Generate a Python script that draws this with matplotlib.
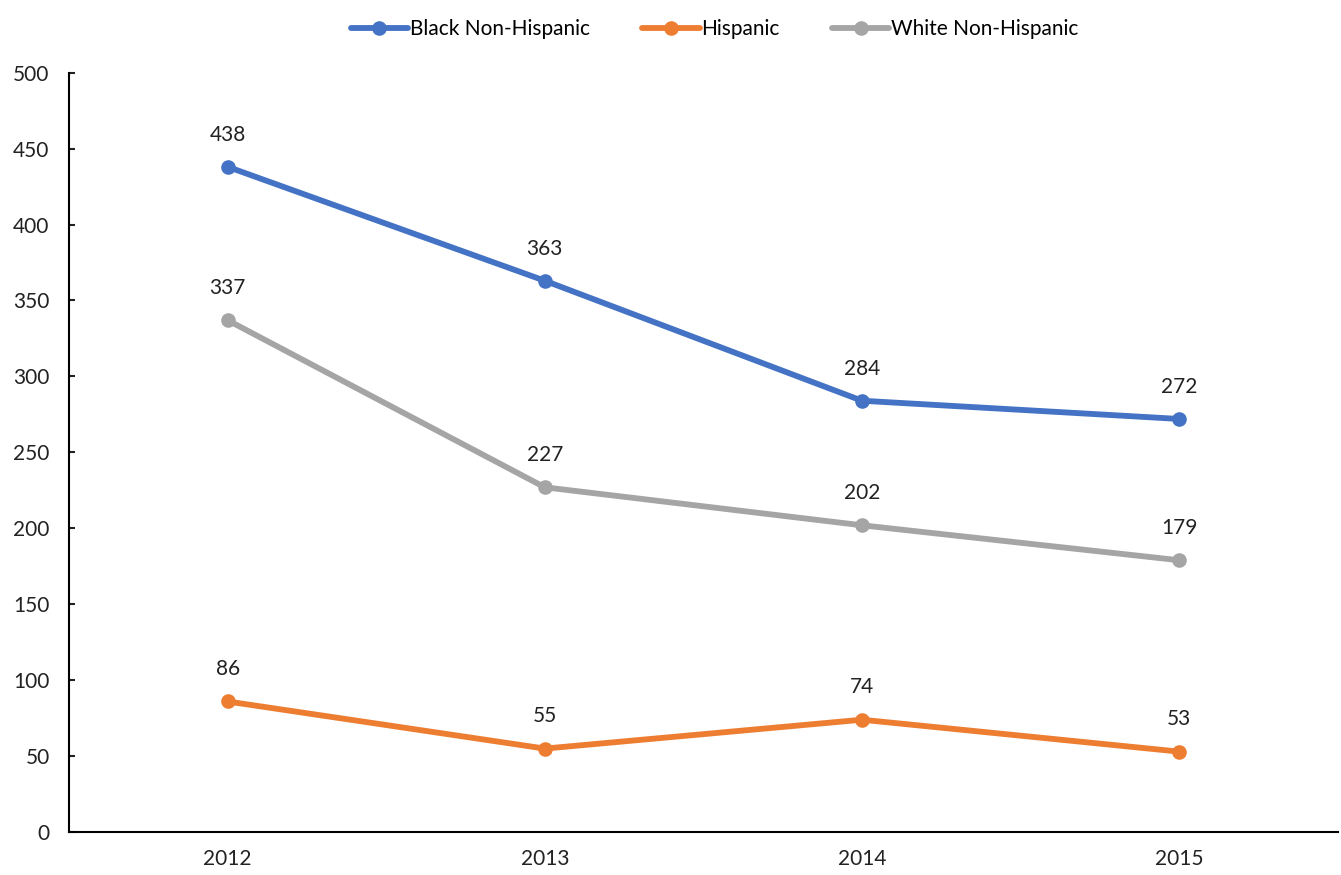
import matplotlib
matplotlib.use("Agg")
import matplotlib.pyplot as plt

years = ["2012", "2013", "2014", "2015"]
black = [438, 363, 284, 272]
hispanic = [86, 55, 74, 53]
white = [337, 227, 202, 179]

series = [
    ("Black Non-Hispanic", black, "#4472C4"),
    ("Hispanic", hispanic, "#ED7D31"),
    ("White Non-Hispanic", white, "#A5A5A5"),
]

plt.rcParams['font.family'] = ['Lato', 'DejaVu Sans']

fig = plt.figure(figsize=(13.41, 8.75), dpi=100)
ax = fig.add_axes([0.0515, 0.049, 0.946, 0.868])

x = range(len(years))
for name, vals, col in series:
    ax.plot(x, vals, '-o', color=col, lw=4.2, ms=9.5, label=name,
            solid_capstyle='round')
    for xi, v in zip(x, vals):
        ax.annotate(str(v), (xi, v), xytext=(0, 16), textcoords='offset points',
                    ha='center', va='bottom', fontsize=15, color='#222222')

ax.set_xlim(-0.5, 3.5)
ax.set_ylim(0, 500)
ax.set_yticks(range(0, 501, 50))
ax.set_xticks(list(x))
ax.set_xticklabels(years)
ax.spines['top'].set_visible(False)
ax.spines['right'].set_visible(False)
ax.spines['left'].set_linewidth(1.5)
ax.spines['bottom'].set_linewidth(1.5)
ax.tick_params(axis='y', direction='in', length=4, width=1.5, labelsize=15, pad=14, colors='#222222')
ax.tick_params(axis='x', length=0, labelsize=15, pad=12, colors='#222222')

ax.legend(loc='upper center', bbox_to_anchor=(0.509, 1.095), ncol=3, frameon=False,
          fontsize=15, handlelength=2.75, handletextpad=0.1, columnspacing=2.5)

fig.savefig("out.png", dpi=100)
